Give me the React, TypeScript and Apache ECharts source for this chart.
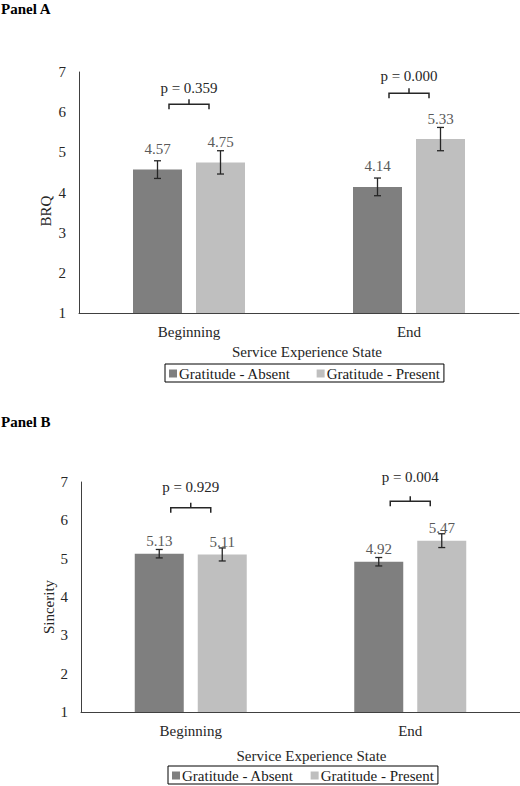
import React, { useEffect, useRef } from "react";
import * as echarts from "echarts";

const categories = ["Beginning", "End"];
const seriesNames = ["Gratitude - Absent", "Gratitude - Present"];

const brqAbsent = [4.57, 4.14];
const brqPresent = [4.75, 5.33];
const brqAbsentErr = [0.22, 0.22];
const brqPresentErr = [0.29, 0.29];
const brqPValues = ["p = 0.359", "p = 0.000"];
const brqBracketY = [6.2, 6.47];
const brqPLabelY = [6.6, 6.9];

const sinAbsent = [5.13, 4.92];
const sinPresent = [5.11, 5.47];
const sinAbsentErr = [0.11, 0.11];
const sinPresentErr = [0.17, 0.18];
const sinPValues = ["p = 0.929", "p = 0.004"];
const sinBracketY = [6.33, 6.5];
const sinPLabelY = [6.87, 7.12];

const yMin = 1;
const yMax = 7;
const yInterval = 1;

const FONT = "Liberation Serif";
const FS = 15;
const DARK = "#7f7f7f";
const LIGHT = "#bfbfbf";
const INK = "#262626";
const BAR_W = 49;
const BAR_GAP_PX = 14;

function errRender(offset: number) {
  return (params: any, api: any) => {
    const x = api.value(0);
    const lo = api.coord([x, api.value(1)]);
    const hi = api.coord([x, api.value(2)]);
    const cx = lo[0] + offset;
    const st = { stroke: INK, lineWidth: 1.3 };
    return {
      type: "group",
      children: [
        { type: "line", shape: { x1: cx, y1: hi[1], x2: cx, y2: lo[1] }, style: st },
        { type: "line", shape: { x1: cx - 3.5, y1: hi[1], x2: cx + 3.5, y2: hi[1] }, style: st },
        { type: "line", shape: { x1: cx - 3.5, y1: lo[1], x2: cx + 3.5, y2: lo[1] }, style: st },
      ],
    };
  };
}

function bracketRender(texts: string[]) {
  return (params: any, api: any) => {
    const x = api.value(0);
    const b = api.coord([x, api.value(1)]);
    const t = api.coord([x, api.value(2)]);
    const cx = b[0];
    const y = b[1];
    const st = { stroke: INK, lineWidth: 1.5, fill: "none" };
    return {
      type: "group",
      children: [
        {
          type: "polyline",
          shape: { points: [[cx - 20, y + 5], [cx - 20, y], [cx + 20, y], [cx + 20, y + 5]] },
          style: st,
        },
        { type: "line", shape: { x1: cx, y1: y, x2: cx, y2: y - 5 }, style: st },
        {
          type: "text",
          x: t[0],
          y: t[1],
          style: {
            text: texts[params.dataIndex],
            align: "center",
            verticalAlign: "middle",
            fontFamily: FONT,
            fontSize: FS,
            fill: INK,
          },
        },
      ],
    };
  };
}

function panelSeries(
  idx: number,
  absent: number[],
  present: number[],
  absErr: number[],
  preErr: number[],
  pTexts: string[],
  bracketY: number[],
  pLabelY: number[],
  labelDist: number
) {
  const off = (BAR_W + BAR_GAP_PX) / 2;
  const label = {
    show: true,
    position: "top",
    distance: labelDist,
    fontFamily: FONT,
    fontSize: FS,
    color: "#595959",
    formatter: (p: any) => p.value.toFixed(2),
  };
  return [
    {
      name: seriesNames[0],
      type: "bar",
      xAxisIndex: idx,
      yAxisIndex: idx,
      data: absent,
      barWidth: BAR_W,
      barGap: `${(BAR_GAP_PX / BAR_W) * 100}%`,
      itemStyle: { color: DARK },
      label,
      z: 2,
    },
    {
      name: seriesNames[1],
      type: "bar",
      xAxisIndex: idx,
      yAxisIndex: idx,
      data: present,
      barWidth: BAR_W,
      barGap: `${(BAR_GAP_PX / BAR_W) * 100}%`,
      itemStyle: { color: LIGHT },
      label,
      z: 2,
    },
    {
      type: "custom",
      xAxisIndex: idx,
      yAxisIndex: idx,
      silent: true,
      z: 5,
      encode: { x: 0, y: [1, 2] },
      renderItem: errRender(-off),
      data: absent.map((v, i) => [i, v - absErr[i], v + absErr[i]]),
    },
    {
      type: "custom",
      xAxisIndex: idx,
      yAxisIndex: idx,
      silent: true,
      z: 5,
      encode: { x: 0, y: [1, 2] },
      renderItem: errRender(off),
      data: present.map((v, i) => [i, v - preErr[i], v + preErr[i]]),
    },
    {
      type: "custom",
      xAxisIndex: idx,
      yAxisIndex: idx,
      silent: true,
      z: 5,
      encode: { x: 0, y: [1, 2] },
      renderItem: bracketRender(pTexts),
      data: bracketY.map((v, i) => [i, v, pLabelY[i]]),
    },
  ];
}

function xAxis(gridIndex: number, nameGap: number, namePad: number) {
  return {
    type: "category",
    gridIndex,
    data: categories,
    axisLine: { lineStyle: { color: "#404040", width: 1 } },
    axisTick: { show: false },
    axisLabel: { fontFamily: FONT, fontSize: FS, color: INK, margin: 11 },
    name: "Service Experience State",
    nameLocation: "middle",
    nameGap,
    nameTextStyle: { fontFamily: FONT, fontSize: FS, color: INK, padding: [0, 0, 0, namePad] },
  };
}

function yAxis(gridIndex: number) {
  return {
    type: "value",
    gridIndex,
    min: yMin,
    max: yMax,
    interval: yInterval,
    axisLine: { show: true, lineStyle: { color: "#404040", width: 1 } },
    axisTick: { show: false },
    splitLine: { show: false },
    axisLabel: { fontFamily: FONT, fontSize: FS, color: INK, margin: 13 },
  };
}

function legend(left: number, top: number, gap: number) {
  return {
    data: seriesNames,
    left,
    top,
    orient: "horizontal",
    icon: "rect",
    itemWidth: 8,
    itemHeight: 8,
    itemGap: gap,
    padding: [2, 4, 1, 4],
    borderColor: "#000",
    borderWidth: 1,
    selectedMode: false,
    textStyle: { fontFamily: FONT, fontSize: FS, color: "#1a1a1a", padding: [0, 0, 0, -3] },
  };
}

export default function App() {
  const ref = useRef<HTMLDivElement>(null);
  useEffect(() => {
    document.body.style.margin = "0";
    if (!ref.current) return;
    const chart = echarts.init(ref.current, undefined, { renderer: "svg" });
    chart.setOption({
      animation: false,
      backgroundColor: "#fff",
      textStyle: { fontFamily: FONT },
      grid: [
        { left: 79, top: 72, width: 440, height: 241 },
        { left: 81, top: 482, width: 440, height: 230 },
      ],
      xAxis: [xAxis(0, 31, 16), xAxis(1, 36, 22)],
      yAxis: [yAxis(0), yAxis(1)],
      legend: [legend(165, 364, 26), legend(168, 766, 17)],
      graphic: [
        { type: "text", left: 1, top: 1, style: { text: "Panel A", fontFamily: FONT, fontWeight: "bold", fontSize: FS, fill: "#000" } },
        { type: "text", left: 1, top: 414, style: { text: "Panel B", fontFamily: FONT, fontWeight: "bold", fontSize: FS, fill: "#000" } },
        {
          type: "text",
          x: 46,
          y: 211,
          rotation: Math.PI / 2,
          style: { text: "BRQ", fontFamily: FONT, fontSize: FS, fill: INK, align: "center", verticalAlign: "middle" },
        },
        {
          type: "text",
          x: 49,
          y: 607,
          rotation: Math.PI / 2,
          style: { text: "Sincerity", fontFamily: FONT, fontSize: FS, fill: INK, align: "center", verticalAlign: "middle" },
        },
      ],
      series: [
        ...panelSeries(0, brqAbsent, brqPresent, brqAbsentErr, brqPresentErr, brqPValues, brqBracketY, brqPLabelY, 13),
        ...panelSeries(1, sinAbsent, sinPresent, sinAbsentErr, sinPresentErr, sinPValues, sinBracketY, sinPLabelY, 5),
      ],
    });
    return () => chart.dispose();
  }, []);
  return <div ref={ref} style={{ width: 520, height: 786 }} />;
}
